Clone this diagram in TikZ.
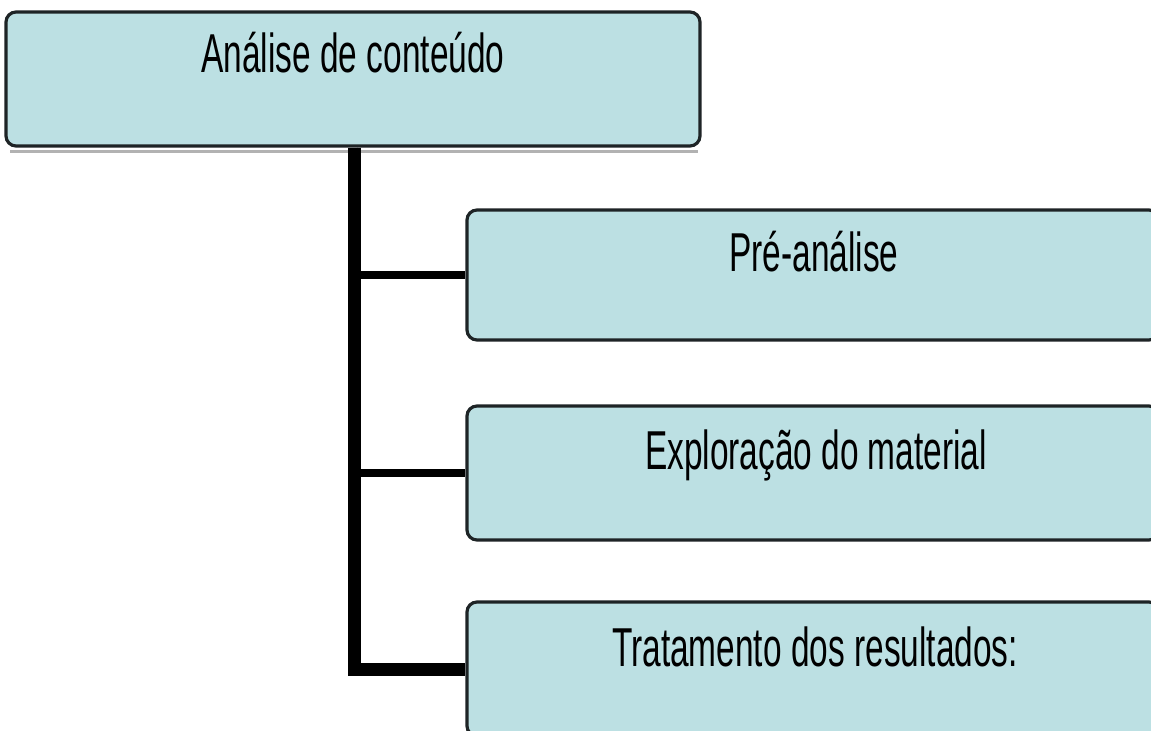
\documentclass[tikz,border=0pt]{standalone}
\usepackage{graphicx}
\usepackage{fontspec}
\setmainfont{Liberation Sans}
\definecolor{boxfill}{RGB}{188,224,227}
\definecolor{boxedge}{RGB}{30,36,38}
\newcommand\narrowtxt[1]{\scalebox{0.61}[1]{#1}}
\begin{document}
\begin{tikzpicture}[x=0.5pt,y=-0.5pt,
  box/.style={draw=boxedge, line width=1.6pt, fill=boxfill, rounded corners=5pt, inner sep=0pt},
  lbl/.style={font=\fontsize{27.4}{30}\selectfont, inner sep=0pt, anchor=base},
  conn/.style={line width=4pt, black}]
\useasboundingbox (0,0) rectangle (1151,731);
\clip (0,0) rectangle (1151,731);
% shadow of top box
\fill[gray!60] (10,150) rectangle (698,153);
\node[box, minimum width=347pt, minimum height=67pt] (top) at (353,79) {};
\node[box, minimum width=346pt, minimum height=65pt] (b1) at (813,275) {};
\node[box, minimum width=346pt, minimum height=67pt] (b2) at (813,473) {};
\node[box, minimum width=346pt, minimum height=67pt] (b3) at (813,669) {};
\coordinate (spine) at (354,0);
\draw[conn] (top.south -| spine) |- (b1.west);
\draw[conn] (top.south -| spine) |- (b2.west);
\draw[conn, line width=6.5pt] (top.south -| spine) |- (b3.west);
\node[lbl] (ttop) at (353,73) {\narrowtxt{Análise de conteúdo}};
\node[lbl] (t1) at (814,272) {\narrowtxt{Pré-análise}};
\node[lbl] (t2) at (816,470) {\narrowtxt{Exploração do material}};
\node[lbl] (t3) at (815,667) {\narrowtxt{Tratamento dos resultados:}};
\end{tikzpicture}
\end{document}
